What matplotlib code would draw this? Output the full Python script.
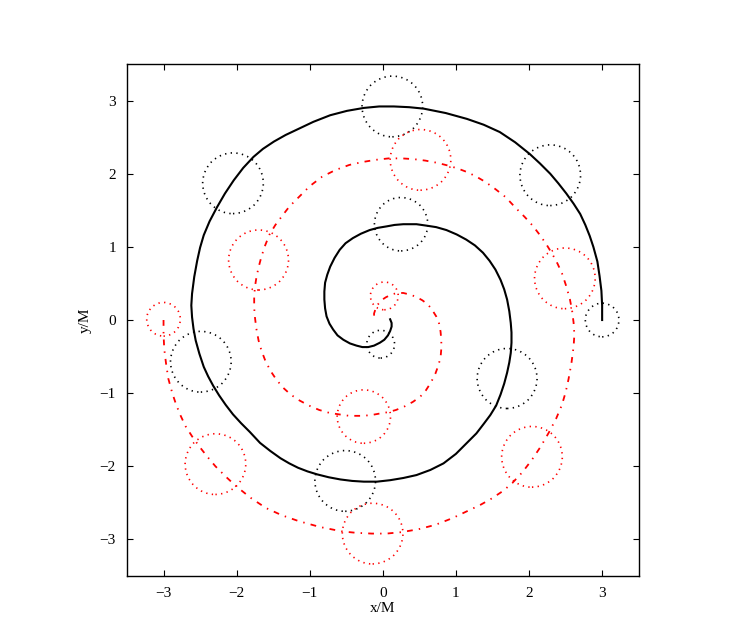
import matplotlib
matplotlib.use("Agg")
import matplotlib.pyplot as plt
from matplotlib.patches import Circle

plt.rcParams['font.family'] = ['Liberation Serif', 'DejaVu Serif']
plt.rcParams['font.size'] = 11

# trajectory of body 1 (black)
bh1 = [(3.00, 0.00), (3.00, 0.20), (2.99, 0.40), (2.965, 0.60), (2.935, 0.80),
       (2.88, 1.00), (2.83, 1.15), (2.77, 1.30), (2.70, 1.45),
       (2.61, 1.59), (2.51, 1.73), (2.40, 1.87), (2.29, 2.00), (2.15, 2.14),
       (2.01, 2.27), (1.81, 2.43), (1.60, 2.57), (1.38, 2.67), (1.15, 2.75),
       (0.86, 2.83), (0.56, 2.89), (0.36, 2.91), (0.15, 2.92), (-0.05, 2.92),
       (-0.26, 2.90), (-0.49, 2.86), (-0.72, 2.80), (-0.95, 2.71), (-1.16, 2.61),
       (-1.33, 2.53), (-1.49, 2.44), (-1.64, 2.34), (-1.77, 2.23), (-1.91, 2.08),
       (-2.04, 1.91), (-2.16, 1.73), (-2.27, 1.54), (-2.37, 1.35), (-2.45, 1.16),
       (-2.50, 0.99), (-2.54, 0.81), (-2.58, 0.59), (-2.61, 0.36), (-2.62, 0.20),
       (-2.61, 0.04), (-2.59, -0.12), (-2.56, -0.28), (-2.51, -0.46), (-2.45, -0.64),
       (-2.39, -0.77), (-2.32, -0.90), (-2.24, -1.03), (-2.15, -1.16), (-2.05, -1.29),
       (-1.94, -1.41), (-1.82, -1.53), (-1.68, -1.68), (-1.54, -1.79), (-1.40, -1.89),
       (-1.28, -1.96), (-1.16, -2.02), (-1.03, -2.07), (-0.90, -2.11), (-0.74, -2.15),
       (-0.58, -2.18), (-0.42, -2.20), (-0.26, -2.21), (-0.08, -2.21), (0.10, -2.19),
       (0.28, -2.16), (0.46, -2.12), (0.65, -2.05), (0.83, -1.96), (1.00, -1.83),
       (1.16, -1.67), (1.28, -1.55), (1.38, -1.42), (1.47, -1.30), (1.55, -1.17),
       (1.61, -1.02), (1.66, -0.87), (1.70, -0.72), (1.73, -0.58), (1.75, -0.45),
       (1.76, -0.31), (1.76, -0.17), (1.75, -0.04), (1.73, 0.12), (1.70, 0.28),
       (1.66, 0.42), (1.61, 0.55), (1.54, 0.69), (1.46, 0.81), (1.37, 0.92),
       (1.26, 1.02), (1.14, 1.10), (1.01, 1.17), (0.87, 1.23), (0.73, 1.27),
       (0.60, 1.29), (0.46, 1.31), (0.37, 1.31), (0.28, 1.31), (0.16, 1.30),
       (0.05, 1.28), (-0.07, 1.26), (-0.18, 1.23), (-0.30, 1.18), (-0.41, 1.12),
       (-0.51, 1.05), (-0.59, 0.96), (-0.66, 0.85), (-0.72, 0.73), (-0.76, 0.62),
       (-0.79, 0.51), (-0.80, 0.39), (-0.80, 0.28), (-0.79, 0.16), (-0.77, 0.05),
       (-0.73, -0.05), (-0.68, -0.13), (-0.62, -0.21), (-0.54, -0.27), (-0.45, -0.32),
       (-0.36, -0.35), (-0.28, -0.37), (-0.20, -0.37), (-0.12, -0.35), (-0.04, -0.31),
       (0.02, -0.27), (0.07, -0.21), (0.10, -0.15), (0.12, -0.09), (0.12, -0.04),
       (0.10, 0.01)]

# trajectory of body 2 (red)
bh2 = [(-3.00, 0.00), (-3.00, -0.20), (-2.99, -0.40), (-2.965, -0.60), (-2.935, -0.80),
       (-2.88, -1.00), (-2.83, -1.15), (-2.77, -1.30), (-2.70, -1.45),
       (-2.61, -1.59), (-2.51, -1.73), (-2.40, -1.87), (-2.29, -2.00), (-2.15, -2.14),
       (-2.01, -2.27), (-1.81, -2.43), (-1.60, -2.57), (-1.38, -2.67), (-1.15, -2.75),
       (-0.86, -2.83), (-0.56, -2.89), (-0.36, -2.91), (-0.15, -2.92), (0.05, -2.92),
       (0.26, -2.90), (0.49, -2.86), (0.72, -2.80), (0.95, -2.71), (1.16, -2.61),
       (1.33, -2.53), (1.49, -2.44), (1.64, -2.34), (1.77, -2.23), (1.91, -2.08),
       (2.04, -1.91), (2.16, -1.73), (2.27, -1.54), (2.37, -1.35), (2.45, -1.16),
       (2.50, -0.99), (2.54, -0.81), (2.58, -0.59), (2.61, -0.36), (2.62, -0.20),
       (2.61, -0.04), (2.59, 0.12), (2.56, 0.28), (2.51, 0.46), (2.45, 0.64),
       (2.39, 0.77), (2.32, 0.90), (2.24, 1.03), (2.15, 1.16), (2.05, 1.29),
       (1.94, 1.41), (1.82, 1.53), (1.68, 1.68), (1.54, 1.79), (1.40, 1.89),
       (1.28, 1.96), (1.16, 2.02), (1.03, 2.07), (0.90, 2.11), (0.74, 2.15),
       (0.58, 2.18), (0.42, 2.20), (0.26, 2.21), (0.08, 2.21), (-0.10, 2.19),
       (-0.28, 2.16), (-0.46, 2.12), (-0.65, 2.05), (-0.83, 1.96), (-1.00, 1.83),
       (-1.16, 1.67), (-1.28, 1.55), (-1.38, 1.42), (-1.47, 1.30), (-1.55, 1.17),
       (-1.61, 1.02), (-1.66, 0.87), (-1.70, 0.72), (-1.73, 0.58), (-1.75, 0.45),
       (-1.76, 0.31), (-1.76, 0.17), (-1.75, 0.04), (-1.73, -0.12), (-1.70, -0.28),
       (-1.66, -0.42), (-1.61, -0.55), (-1.54, -0.69), (-1.46, -0.81), (-1.37, -0.92),
       (-1.26, -1.02), (-1.14, -1.10), (-1.01, -1.17), (-0.87, -1.23), (-0.73, -1.27),
       (-0.60, -1.29), (-0.46, -1.31), (-0.37, -1.31), (-0.28, -1.31), (-0.16, -1.30),
       (-0.05, -1.28), (0.07, -1.26), (0.18, -1.23), (0.30, -1.18), (0.41, -1.12),
       (0.51, -1.05), (0.59, -0.96), (0.66, -0.85), (0.72, -0.73), (0.76, -0.62),
       (0.79, -0.51), (0.80, -0.39), (0.80, -0.28), (0.79, -0.16), (0.77, -0.05),
       (0.73, 0.05), (0.68, 0.13), (0.62, 0.21), (0.54, 0.27), (0.45, 0.32),
       (0.36, 0.35), (0.28, 0.37), (0.20, 0.37), (0.12, 0.35), (0.04, 0.31),
       (-0.02, 0.27), (-0.07, 0.21), (-0.10, 0.15), (-0.12, 0.09), (-0.12, 0.04),
       (-0.10, -0.01)]

# horizon snapshots
bh1_cx = [3.00, 2.29, 0.13, -2.05, -2.49, -0.515, 1.70, 0.25, -0.03]
bh1_cy = [0.00, 1.98, 2.92, 1.87, -0.57, -2.20, -0.80, 1.31, -0.33]
bh2_cx = [-3.00, -2.29, -0.14, 2.04, 2.49, 0.515, -1.70, -0.26, 0.02]
bh2_cy = [0.01, -1.97, -2.92, -1.87, 0.57, 2.19, 0.82, -1.32, 0.33]
radius = [0.23, 0.415, 0.415, 0.415, 0.415, 0.415, 0.41, 0.365, 0.19]

fig = plt.figure(figsize=(7.47, 6.41), dpi=100)
ax = fig.add_axes([0.170, 0.1014, 0.685, 0.7987])

ax.plot(*zip(*bh1), color="black", lw=1.5, solid_joinstyle="round")
ax.plot(*zip(*bh2), color="red", lw=1.3, linestyle=(0, (3.2, 3.4, 0.8, 3.4)))

for cx, cy, r in zip(bh1_cx, bh1_cy, radius):
    ax.add_patch(Circle((cx, cy), r, fill=False, edgecolor="black",
                        lw=1.2, linestyle=(0, (0.8, 2.6))))
for cx, cy, r in zip(bh2_cx, bh2_cy, radius):
    ax.add_patch(Circle((cx, cy), r, fill=False, edgecolor="red",
                        lw=1.2, linestyle=(0, (0.8, 2.6))))

ax.set_xlim(-3.5, 3.5)
ax.set_ylim(-3.5, 3.5)
ax.set_xticks([-3, -2, -1, 0, 1, 2, 3])
ax.set_yticks([-3, -2, -1, 0, 1, 2, 3])
ax.tick_params(direction="in", length=4, width=0.8, top=True, right=True, pad=8)
for s in ax.spines.values():
    s.set_linewidth(1.0)
ax.set_xlabel("x/M", labelpad=1)
ax.set_ylabel("y/M", labelpad=6)

fig.savefig("out.png", dpi=100)
